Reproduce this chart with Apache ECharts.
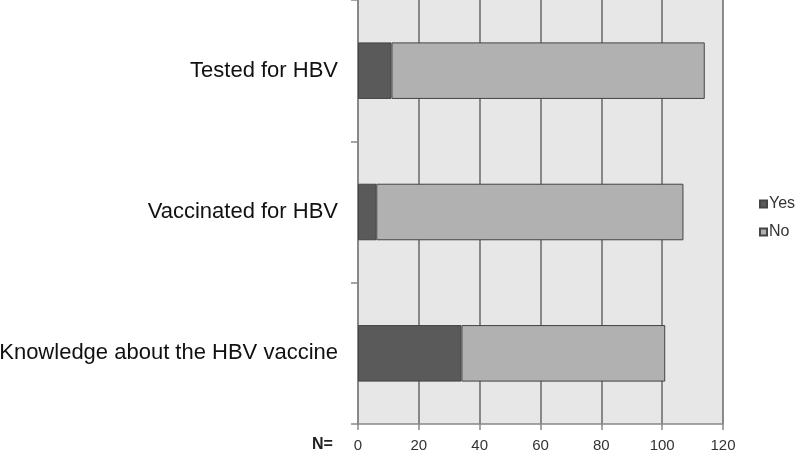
<!DOCTYPE html>
<html>
<head>
<meta charset="utf-8">
<script src="https://cdn.jsdelivr.net/npm/echarts@6/dist/echarts.min.js"></script>
<style>
html,body{margin:0;padding:0;background:#fff;}
#chart{width:800px;height:456px;}
</style>
</head>
<body>
<div id="chart"></div>
<script>
var categories = ['Tested for HBV', 'Vaccinated for HBV', 'Knowledge about the HBV vaccine'];
var yesValues = [11, 6, 34];
var noValues = [103, 101, 67];
var seriesNames = ['Yes', 'No'];
var xTicks = {min: 0, max: 120, interval: 20};

var chart = echarts.init(document.getElementById('chart'));
chart.setOption({
  backgroundColor: '#ffffff',
  animation: false,
  grid: {
    left: 358, right: 77, top: 0, bottom: 32,
    containLabel: false,
    outerBoundsMode: 'none',
    show: true, backgroundColor: '#e7e7e7', borderWidth: 0
  },
  legend: {
    orient: 'vertical',
    left: 759, top: 196,
    padding: 0,
    itemWidth: 7, itemHeight: 7, itemGap: 12,
    icon: 'rect',
    data: seriesNames,
    textStyle: {fontFamily: 'Liberation Sans', fontSize: 16, color: '#333', padding: [0, 0, 0, -3]}
  },
  xAxis: {
    type: 'value',
    min: xTicks.min, max: xTicks.max, interval: xTicks.interval,
    axisLine: {show: true, lineStyle: {color: '#888', width: 1.5}},
    axisTick: {show: true, length: 6, lineStyle: {color: '#888', width: 1.5}},
    axisLabel: {margin: 14, fontFamily: 'Liberation Sans', fontSize: 15, color: '#333'},
    splitLine: {show: true, lineStyle: {color: '#707070', width: 1.6}}
  },
  yAxis: {
    type: 'category',
    inverse: true,
    data: categories,
    axisLine: {show: true, lineStyle: {color: '#888', width: 1.5}},
    axisTick: {show: true, length: 7, alignWithLabel: false, lineStyle: {color: '#888', width: 1.5}},
    axisLabel: {margin: 20, fontFamily: 'Liberation Sans', fontSize: 22, color: '#111', padding: [5, 0, 0, 0]},
    splitLine: {show: false}
  },
  graphic: [{
    type: 'text', left: 312, top: 437,
    style: {text: 'N=', font: 'bold 16px "Liberation Sans"', fill: '#222'}
  }],
  series: [
    {
      name: seriesNames[0], type: 'bar', stack: 'total', barWidth: '40%',
      data: yesValues,
      itemStyle: {color: '#5a5a5a', borderColor: '#444', borderWidth: 1}
    },
    {
      name: seriesNames[1], type: 'bar', stack: 'total', barWidth: '40%',
      data: noValues,
      itemStyle: {color: '#b1b1b1', borderColor: '#444', borderWidth: 1}
    }
  ]
});
</script>
</body>
</html>
